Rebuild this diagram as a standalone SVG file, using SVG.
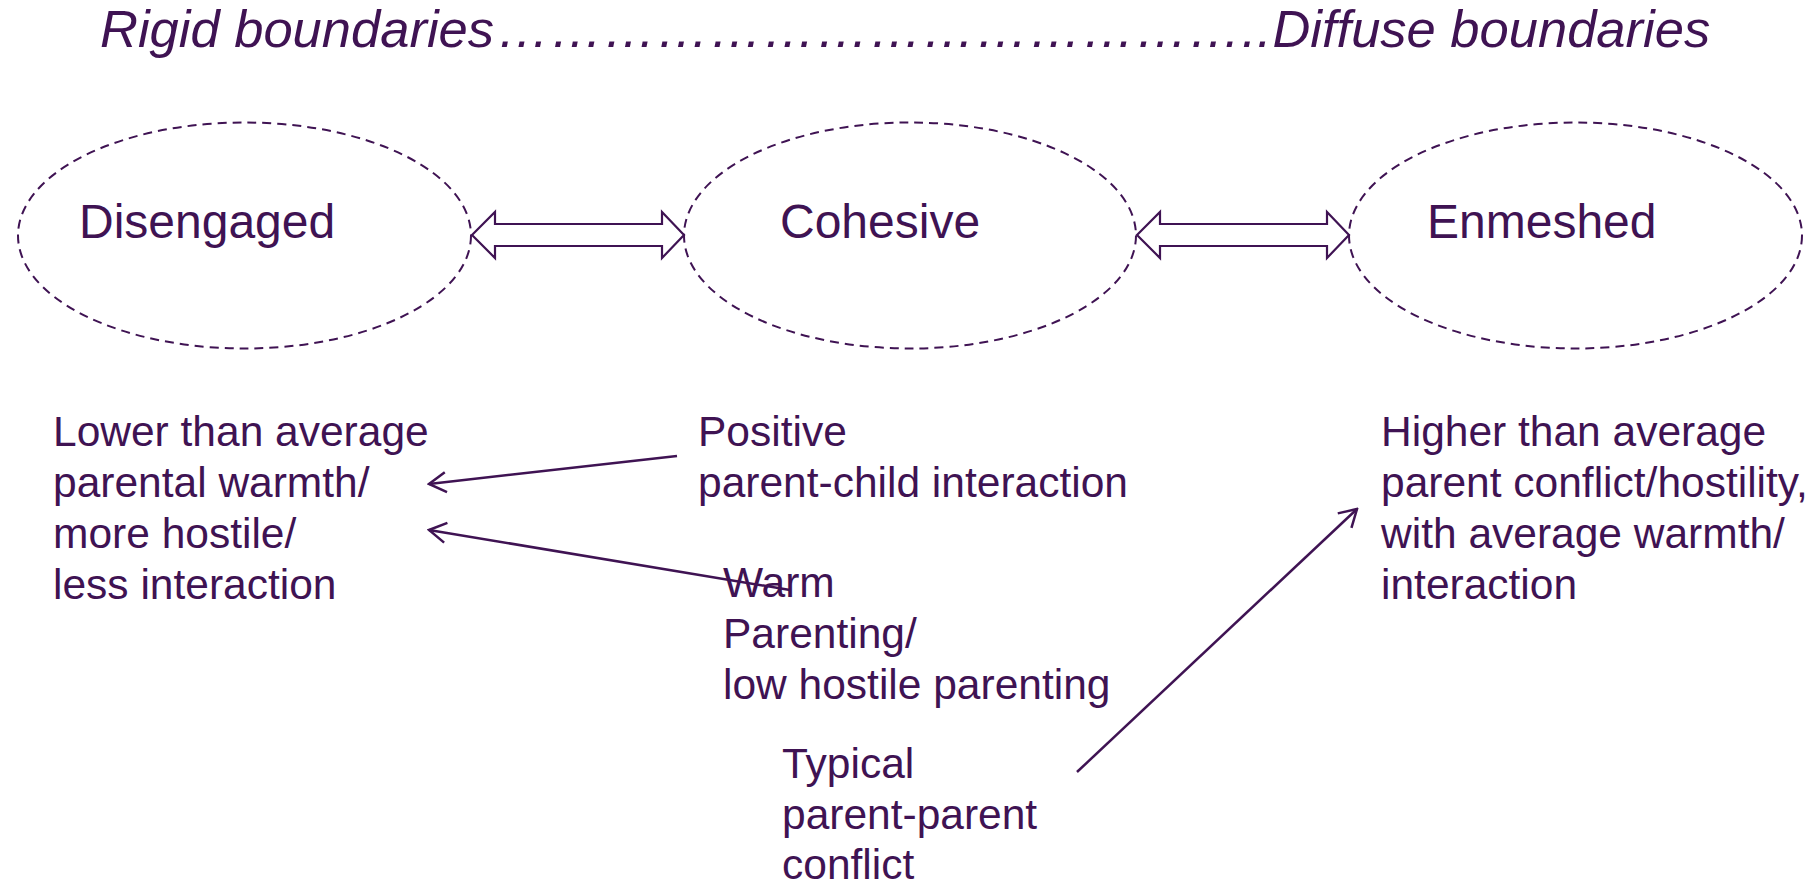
<svg xmlns="http://www.w3.org/2000/svg" width="1812" height="885" viewBox="0 0 1812 885">
<style>
.t{font-family:"Liberation Sans",Arial,sans-serif;fill:#3F1353}
.title{font-size:52.5px;font-style:italic}
.node{font-size:48px}
.body{font-size:42.5px}
.ell{fill:none;stroke:#3F1353;stroke-width:2;stroke-dasharray:9 6}
.dbl{fill:#fff;stroke:#3F1353;stroke-width:2.2;stroke-linejoin:miter}
.con{fill:none;stroke:#3F1353;stroke-width:2.5}
</style>
<defs>
<marker id="open" viewBox="-20 -12 22 24" markerWidth="22" markerHeight="24" refX="0" refY="0" markerUnits="userSpaceOnUse" orient="auto">
<path d="M-17,-10 L0,0 L-17,10" fill="none" stroke="#3F1353" stroke-width="2.5"/>
</marker>
</defs>
<rect width="1812" height="885" fill="#fff"/>
<text class="t title" x="100" y="47">Rigid boundaries<tspan x="497" letter-spacing="0.7">……………………………………..</tspan><tspan letter-spacing="0">Diffuse boundaries</tspan></text>
<g id="disengaged">
<ellipse class="ell" cx="244.5" cy="235.5" rx="226.5" ry="113"/>
<text class="t node" x="79" y="238">Disengaged</text>
</g>
<g id="cohesive">
<ellipse class="ell" cx="910" cy="235.5" rx="226" ry="113"/>
<text class="t node" x="780" y="238">Cohesive</text>
</g>
<g id="enmeshed">
<ellipse class="ell" cx="1575.5" cy="235.5" rx="226.5" ry="113"/>
<text class="t node" x="1427" y="238">Enmeshed</text>
</g>
<g id="disengaged-desc">
<text class="t body"><tspan x="53" y="446">Lower than average</tspan><tspan x="53" y="497">parental warmth/</tspan><tspan x="53" y="548">more hostile/</tspan><tspan x="53" y="599">less interaction</tspan></text>
</g>
<g id="positive">
<text class="t body"><tspan x="698" y="446">Positive</tspan><tspan x="698" y="497">parent-child interaction</tspan></text>
</g>
<g id="warm">
<text class="t body"><tspan x="723" y="597">Warm</tspan><tspan x="723" y="648">Parenting/</tspan><tspan x="723" y="699">low hostile parenting</tspan></text>
</g>
<g id="typical">
<text class="t body"><tspan x="782" y="778">Typical</tspan><tspan x="782" y="829">parent-parent</tspan><tspan x="782" y="879">conflict</tspan></text>
</g>
<g id="enmeshed-desc">
<text class="t body"><tspan x="1381" y="446">Higher than average</tspan><tspan x="1381" y="497">parent conflict/hostility,</tspan><tspan x="1381" y="548">with average warmth/</tspan><tspan x="1381" y="599">interaction</tspan></text>
</g>
<g id="connectors">
<polygon class="dbl" points="472,235 495,212 495,224 662,224 662,212 684,235 662,258 662,246 495,246 495,258"/>
<polygon class="dbl" points="1137,235 1160,212 1160,224 1327,224 1327,212 1349,235 1327,258 1327,246 1160,246 1160,258"/>
<line class="con" x1="677" y1="456" x2="429" y2="484" marker-end="url(#open)"/>
<line class="con" x1="790" y1="590" x2="429" y2="530" marker-end="url(#open)"/>
<line class="con" x1="1077" y1="772" x2="1357" y2="509" marker-end="url(#open)"/>
</g>
</svg>
